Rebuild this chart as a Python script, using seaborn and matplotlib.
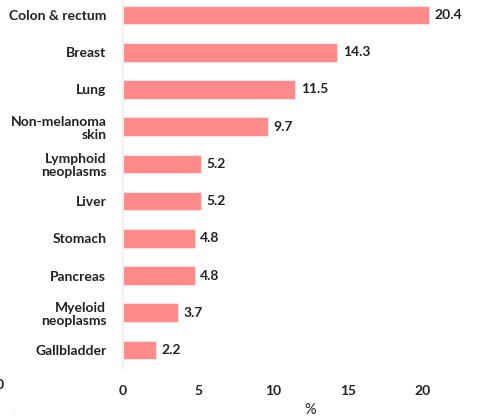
import matplotlib
matplotlib.use("Agg")
import matplotlib.pyplot as plt
import seaborn as sns
import pandas as pd
from matplotlib.lines import Line2D

categories = ["Colon & rectum", "Breast", "Lung", "Non-melanoma\nskin", "Lymphoid\nneoplasms",
              "Liver", "Stomach", "Pancreas", "Myeloid\nneoplasms", "Gallbladder"]
values = [20.4, 14.3, 11.5, 9.7, 5.2, 5.2, 4.8, 4.8, 3.7, 2.2]
xticks = [0, 5, 10, 15, 20]

sns.set_theme(style="white")
plt.rcParams['font.family'] = ['Lato', 'DejaVu Sans']
plt.rcParams['font.weight'] = 'bold'

W, H = 482, 416
fig = plt.figure(figsize=(W/100, H/100), dpi=100)
left, right = 123, 498
top, bottom = -3.6, 368.6
ax = fig.add_axes([left/W, 1 - bottom/H, (right-left)/W, (bottom-top)/H])

df = pd.DataFrame({"cat": categories, "val": values})
sns.barplot(data=df, y="cat", x="val", ax=ax, color="#FF8A8A", saturation=1,
            width=0.5, edgecolor="#ffe0e0", linewidth=0.8)

for i, v in enumerate(values):
    ax.text(v + 0.35, i, f"{v}", va="center", ha="left", fontsize=10,
            fontweight="bold", color="#222222")

ax.set_xlim(0, 25)
ax.set_ylim(9.5, -0.5)
ax.set_xticks(xticks)
ax.set_xticklabels([str(t) for t in xticks], fontsize=10, fontweight="bold", color="#222222")
ax.tick_params(axis="x", length=0, pad=12)
ax.tick_params(axis="y", length=0, pad=12)
for lab in ax.get_yticklabels():
    lab.set_fontsize(10)
    lab.set_fontweight("bold")
    lab.set_color("#222222")
    lab.set_linespacing(1.15)
ax.set_ylabel("")
ax.set_xlabel("%", fontsize=10.5, color="#222222", fontweight="normal", labelpad=4)

for s in ["top", "right", "bottom"]:
    ax.spines[s].set_visible(False)
ax.spines["left"].set_color("#eeeeee")
ax.spines["left"].set_linewidth(1.2)

fig.add_artist(Line2D([14/W, 14/W], [0, 1 - 410/H], color="#f2f2f2", lw=1))
fig.text(0, 1 - 385/H, "0", ha="center", va="center", fontsize=10, fontweight="bold", color="#222222")

fig.savefig("out.png", dpi=100)
